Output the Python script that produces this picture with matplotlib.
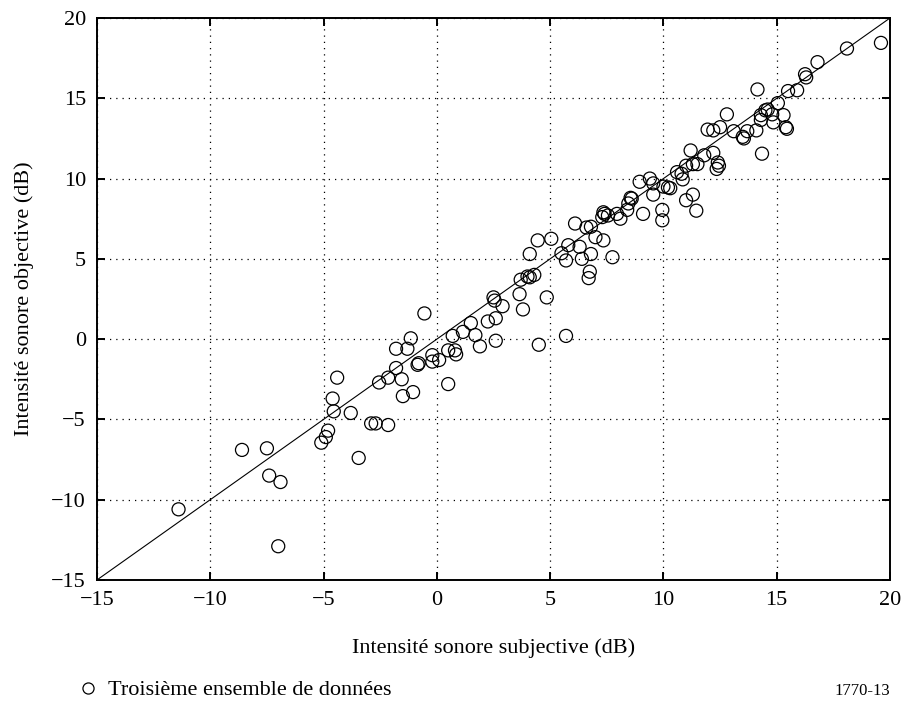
import matplotlib
matplotlib.use("Agg")
import matplotlib.pyplot as plt
from matplotlib.lines import Line2D
import numpy as np

plt.rcParams['font.family'] = ['Liberation Serif', 'DejaVu Serif']
plt.rcParams['mathtext.fontset'] = 'stix'

# Subjective loudness (x) and objective loudness (y), dB
subjective = [
    -11.4, -8.6, -7.5, -7.4, -6.9, -7.0,
    -5.1, -4.9, -4.8, -4.55, -4.6, -4.4, -3.8, -3.45,
    -2.9, -2.7, -2.15, -2.55, -2.15, -1.55, -1.5, -1.05,
    -1.8, -1.8, -1.3, -1.15, -0.55, -0.8, -0.85, -0.2, -0.2, 0.1,
    0.5, 0.8, 0.85, 0.7, 1.15, 1.5, 1.7, 1.9, 0.5,
    2.25, 2.6, 2.6, 2.5, 2.55, 2.9,
    3.65, 3.7, 3.8, 4.0, 4.1, 4.3, 4.85, 4.5, 5.7,
    4.1, 4.45, 5.05, 5.5, 5.8, 5.7, 6.3, 6.4, 6.8,
    6.1, 6.6, 6.8, 7.0, 7.35, 7.75, 6.75, 6.7,
    7.3, 7.4, 7.35, 7.55, 7.95, 8.1, 8.4, 8.55, 8.6, 8.45,
    9.1, 8.95, 9.4, 9.55, 9.55, 9.95, 9.95, 10.2, 10.3, 10.0,
    10.6, 10.8, 10.85, 11.0, 11.3, 11.5, 11.0, 11.3, 11.45,
    11.2, 11.8, 12.2, 12.4, 12.45, 12.35,
    11.95, 12.2, 12.5, 12.8, 13.1, 13.55, 13.5, 13.7, 14.1,
    14.15, 14.3, 14.3, 14.5, 14.6, 14.8, 14.85, 15.05, 15.3, 15.4, 15.45, 14.35,
    15.5, 15.9, 16.25, 16.3, 16.8, 18.1, 19.6,
]
objective = [
    -10.6, -6.9, -6.8, -8.5, -8.9, -12.9,
    -6.45, -6.1, -5.7, -4.5, -3.7, -2.4, -4.6, -7.4,
    -5.25, -5.25, -5.35, -2.7, -2.4, -2.5, -3.55, -3.3,
    -1.8, -0.6, -0.6, 0.05, 1.6, -1.5, -1.6, -1.0, -1.4, -1.3,
    -0.7, -0.7, -0.95, 0.2, 0.45, 1.0, 0.25, -0.45, -2.8,
    1.1, 1.3, -0.1, 2.6, 2.4, 2.05,
    2.8, 3.7, 1.85, 3.9, 3.85, 4.0, 2.6, -0.35, 0.2,
    5.3, 6.15, 6.25, 5.35, 5.85, 4.9, 5.75, 5.0, 5.3,
    7.2, 6.95, 7.0, 6.35, 6.15, 5.1, 4.2, 3.8,
    7.6, 7.8, 7.9, 7.7, 7.8, 7.5, 8.05, 8.8, 8.75, 8.45,
    7.8, 9.8, 10.0, 9.7, 9.0, 8.05, 7.4, 9.45, 9.4, 9.5,
    10.4, 10.3, 9.95, 10.8, 10.9, 10.9, 8.65, 9.0, 8.0,
    11.75, 11.45, 11.6, 11.0, 10.8, 10.6,
    13.05, 13.0, 13.2, 14.0, 12.95, 12.5, 12.6, 12.95, 13.0,
    15.55, 13.95, 13.65, 14.25, 14.3, 14.0, 13.5, 14.7, 13.95, 13.2, 13.1, 11.55,
    15.45, 15.5, 16.5, 16.3, 17.25, 18.1, 18.45,
]
ticks = [-15, -10, -5, 0, 5, 10, 15, 20]
xlabel = "Intensité sonore subjective (dB)"
ylabel = "Intensité sonore objective (dB)"
legend_text = "Troisième ensemble de données"
ref_text = "1770-13"

fig = plt.figure(figsize=(9.08, 7.09), dpi=100)
ax = fig.add_axes([0.1068, 0.182, 0.8734, 0.7926])

ax.set_xlim(-15, 20)
ax.set_ylim(-15, 20)
ax.set_xticks(ticks)
ax.set_yticks(ticks)
ax.grid(True, color='black', linestyle=(0, (1, 4)), linewidth=0.9)
ax.plot([-15, 20], [-15, 20], color='black', linewidth=0.8, zorder=2)
ax.scatter(subjective, objective, s=88, facecolors='none', edgecolors='black',
           linewidths=0.9, zorder=3)

for sp in ax.spines.values():
    sp.set_linewidth(1.4)
ax.tick_params(direction='in', length=6, width=1.4, top=True, right=True,
               labelsize=16, pad=8)
ax.set_xlabel(xlabel, fontsize=16, labelpad=20)
ax.set_ylabel(ylabel, fontsize=16, labelpad=12)

# legend line below the chart
fig.add_artist(Line2D([88 / 908], [1 - 688 / 709], marker='o', markersize=8,
                      markerfacecolor='none', markeredgecolor='black',
                      markeredgewidth=0.9, linestyle='none',
                      transform=fig.transFigure))
fig.text(108 / 908, 1 - 695 / 709, legend_text, fontsize=16,
         ha='left', va='baseline')
fig.text(890 / 908, 1 - 695 / 709, ref_text, fontsize=12, ha='right', va='baseline')

fig.savefig("out.png", dpi=100)
